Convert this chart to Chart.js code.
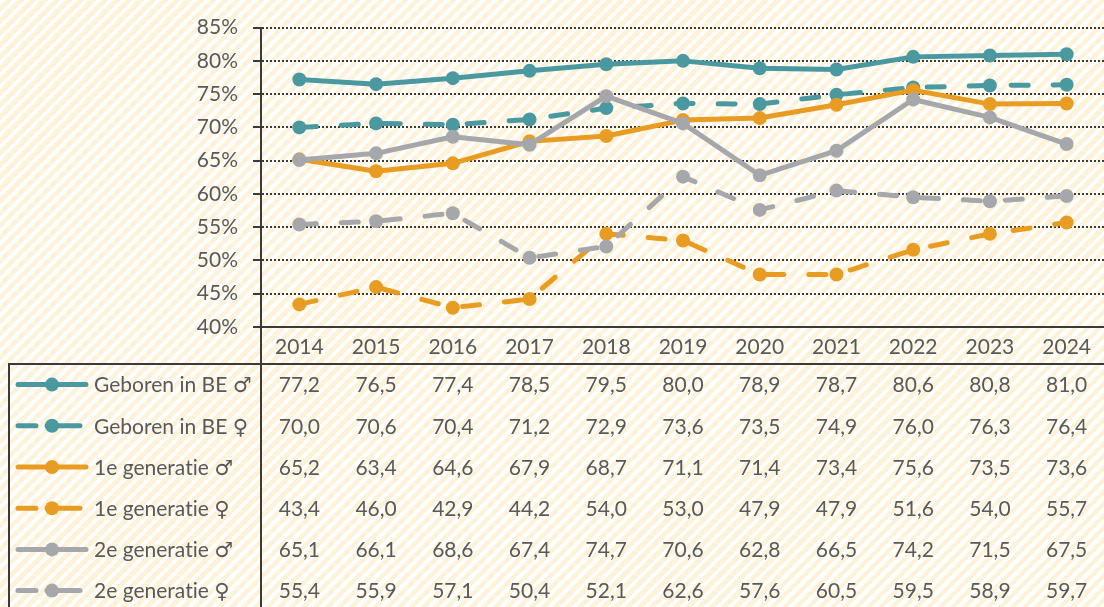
<!DOCTYPE html>
<html>
<head>
<meta charset="utf-8">
<script src="https://cdn.jsdelivr.net/npm/chart.js@4"></script>
<style>
    html, body {
        margin: 0;
        padding: 0;
        overflow: hidden;
        width: 1104px;
        height: 607px;
        background: repeating-linear-gradient(135deg, #ffffff 0px, #ffffff 4px, #fef3d9 4px, #fef3d9 8.5px);
    }
    canvas { display: block; }
</style>
</head>
<body>
<canvas id="chart" width="1112" height="607"></canvas>
<script>
const years = ['2014', '2015', '2016', '2017', '2018', '2019', '2020', '2021', '2022', '2023', '2024'];
const seriesNames = ['Geboren in BE ♂', 'Geboren in BE ♀', '1e generatie ♂', '1e generatie ♀', '2e generatie ♂', '2e generatie ♀'];
const belgMan = [77.2, 76.5, 77.4, 78.5, 79.5, 80.0, 78.9, 78.7, 80.6, 80.8, 81.0];
const belgVrouw = [70.0, 70.6, 70.4, 71.2, 72.9, 73.6, 73.5, 74.9, 76.0, 76.3, 76.4];
const gen1Man = [65.2, 63.4, 64.6, 67.9, 68.7, 71.1, 71.4, 73.4, 75.6, 73.5, 73.6];
const gen1Vrouw = [43.4, 46.0, 42.9, 44.2, 54.0, 53.0, 47.9, 47.9, 51.6, 54.0, 55.7];
const gen2Man = [65.1, 66.1, 68.6, 67.4, 74.7, 70.6, 62.8, 66.5, 74.2, 71.5, 67.5];
const gen2Vrouw = [55.4, 55.9, 57.1, 50.4, 52.1, 62.6, 57.6, 60.5, 59.5, 58.9, 59.7];
const yMin = 40, yMax = 85, yStep = 5;

const teal = '#4a99a1';
const orange = '#e99c22';
const grey = '#a6a7ab';
const textColor = '#595959';
const lineColor = '#3a3a3a';
const dash = [17, 25];
const font = 'Lato, "DejaVu Sans", sans-serif';

const allSeries = [belgMan, belgVrouw, gen1Man, gen1Vrouw, gen2Man, gen2Vrouw];
const colors = [teal, teal, orange, orange, grey, grey];
const dashed = [false, true, false, true, false, true];

const datasets = allSeries.map((values, i) => ({
    label: seriesNames[i],
    data: values,
    borderColor: colors[i],
    backgroundColor: colors[i],
    borderWidth: 5,
    borderDash: dashed[i] ? dash : [],
    borderCapStyle: 'round',
    borderJoinStyle: 'round',
    pointRadius: 7,
    pointBorderWidth: 0,
    pointBackgroundColor: colors[i],
    tension: 0,
    order: -i
}));

// data table under the chart: legend keys + values per year
const tablePlugin = {
    id: 'dataTable',
    afterDraw(chart) {
        const ctx = chart.ctx;
        const x = chart.scales.x;
        const area = chart.chartArea;
        const top = 364;
        const rowH = 41.2;

        ctx.save();
        // borders
        ctx.strokeStyle = lineColor;
        ctx.lineWidth = 2;
        ctx.setLineDash([]);
        ctx.beginPath();
        ctx.moveTo(area.left, area.bottom);
        ctx.lineTo(area.left, chart.height);
        ctx.moveTo(9, top);
        ctx.lineTo(chart.width, top);
        ctx.moveTo(9, top - 1);
        ctx.lineTo(9, chart.height);
        ctx.stroke();

        ctx.font = '21px ' + font;
        ctx.letterSpacing = '0.01px';
        ctx.fillStyle = textColor;
        ctx.textBaseline = 'middle';

        allSeries.forEach((values, i) => {
            const cy = top + rowH / 2 + rowH * i;

            // legend key
            ctx.strokeStyle = colors[i];
            ctx.fillStyle = colors[i];
            ctx.lineWidth = 5;
            ctx.lineCap = 'round';
            ctx.beginPath();
            if (dashed[i]) {
                ctx.moveTo(18, cy);
                ctx.lineTo(36, cy);
                ctx.moveTo(47, cy);
                ctx.lineTo(80, cy);
            } else {
                ctx.moveTo(18, cy);
                ctx.lineTo(86, cy);
            }
            ctx.stroke();
            ctx.beginPath();
            ctx.arc(52, cy, 7, 0, Math.PI * 2);
            ctx.fill();

            ctx.fillStyle = textColor;
            ctx.textAlign = 'left';
            ctx.fillText(seriesNames[i], 94, cy + 1);

            ctx.textAlign = 'center';
            values.forEach((v, j) => {
                ctx.fillText(v.toFixed(1).replace('.', ','), x.getPixelForValue(j), cy + 1);
            });
        });
        ctx.restore();
    }
};

new Chart(document.getElementById('chart'), {
    type: 'line',
    data: {
        labels: years,
        datasets: datasets
    },
    options: {
        responsive: false,
        animation: false,
        layout: {
            padding: { top: 21, right: 0, left: 0, bottom: 0 }
        },
        plugins: {
            legend: { display: false },
            tooltip: { enabled: false }
        },
        scales: {
            x: {
                offset: true,
                afterFit: (scale) => { scale.height = 280; },
                grid: { display: false, offset: true },
                border: { display: true, color: lineColor, width: 2 },
                ticks: {
                    color: textColor,
                    font: { family: font, size: 21 },
                    padding: 0
                }
            },
            y: {
                min: yMin,
                max: yMax,
                afterFit: (scale) => { scale.width = 261; },
                grid: {
                    color: lineColor,
                    lineWidth: 2,
                    tickLength: 8,
                    tickColor: lineColor,
                    tickWidth: 2,
                    tickBorderDash: []
                },
                border: { display: true, color: lineColor, width: 2, dash: [2, 2] },
                ticks: {
                    stepSize: yStep,
                    color: textColor,
                    font: { family: font, size: 21 },
                    padding: 15,
                    callback: (v) => v + '%'
                }
            }
        }
    },
    plugins: [tablePlugin]
});
</script>
</body>
</html>
